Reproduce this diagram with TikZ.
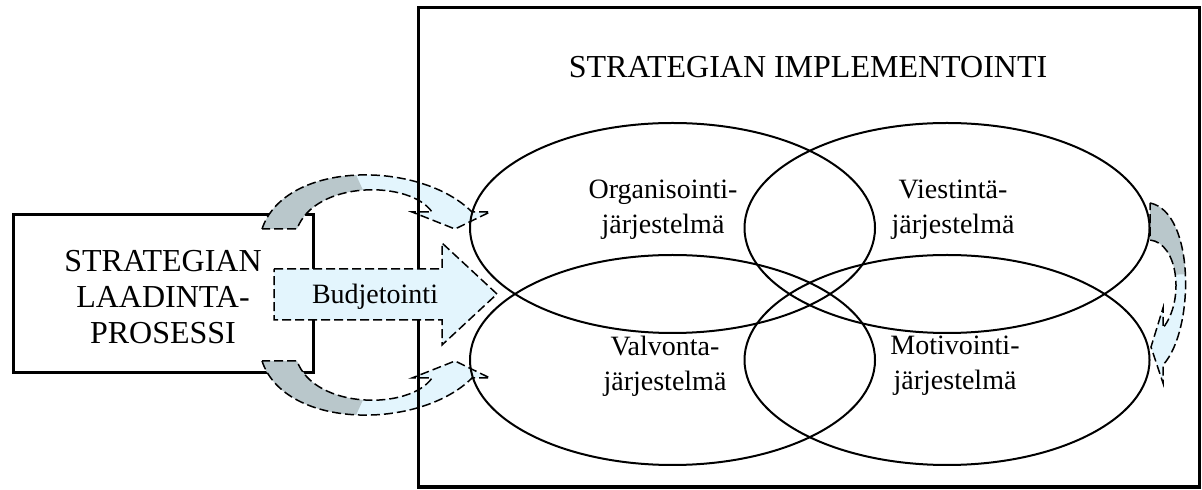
\documentclass[tikz,border=0pt]{standalone}
\usepackage{fontspec}
\setmainfont{Liberation Serif}
\usetikzlibrary{shapes.geometric, positioning}
\definecolor{vaalea}{RGB}{227,245,253}
\definecolor{varjo}{RGB}{185,199,203}

\begin{document}
\begin{tikzpicture}[x=0.5pt, y=-0.5pt,
                    laatikko/.style={draw, line width=1.5pt, inner sep=0pt},
                    jarj/.style={ellipse, draw, line width=1pt, minimum width=202.5pt, minimum height=105pt, inner sep=0pt},
                    teksti/.style={align=center, font=\fontsize{14}{17.5}\selectfont},
                    iso/.style={align=center, font=\fontsize{16}{18}\selectfont},
                    katko/.style={draw, dash pattern=on 4.5pt off 2pt, line width=0.75pt}]
                  \useasboundingbox (0,0) rectangle (1202,490);

                  \node[laatikko, minimum width=150pt, minimum height=79pt] (laadinta) at (163,294) {};
                  \node[iso] (laadintateksti) at (163,297) {STRATEGIAN\\LAADINTA-\\PROSESSI};

                  \foreach \s/\f in {0/1, 590/-1}{
                      \begin{scope}[shift={(0,\s)}, yscale=\f]
                          \fill[vaalea] (262,229) .. controls (285,160) and (420,160) .. (472,212) -- (490,212) -- (455,229) -- (412,212) -- (432,212) .. controls (410,180) and (315,180) .. (297,229) -- cycle;
                          \fill[varjo] (262,229) .. controls (273.5,194.5) and (313,177.25) .. (356.1,175.1) -- (363,190.1) .. controls (334.25,192.25) and (306,204.5) .. (297,229) -- cycle;
                          \path[katko] (262,229) .. controls (285,160) and (420,160) .. (472,212) -- (490,212) -- (455,229) -- (412,212) -- (432,212) .. controls (410,180) and (315,180) .. (297,229) -- cycle;
                      \end{scope}
                  }

                  \fill[vaalea] (1150,203) .. controls (1195,212) and (1195,330) .. (1163,365) -- (1163,383) -- (1151,347) -- (1163,308) -- (1163,328) .. controls (1185,300) and (1178,243) .. (1150,240) -- cycle;
                  \fill[varjo] (1150,203) .. controls (1172.5,207.5) and (1183.75,239.25) .. (1185.4,274.3) -- (1175.3,274.6) .. controls (1172.75,256.5) and (1164,241.5) .. (1150,240) -- cycle;
                  \path[katko] (1150,203) .. controls (1195,212) and (1195,330) .. (1163,365) -- (1163,383) -- (1151,347) -- (1163,308) -- (1163,328) .. controls (1185,300) and (1178,243) .. (1150,240) -- cycle;

                  \node[laatikko, minimum width=390.5pt, minimum height=239.5pt] (impl) at (808.5,247.5) {};
                  \node[iso] (otsikko) at (808,67) {STRATEGIAN IMPLEMENTOINTI};

                  \node[jarj] (org) at (672.5,228) {};
                  \node[jarj] (viest) at (947,228) {};
                  \node[jarj] (valv) at (672.5,360) {};
                  \node[jarj] (motiv) at (947,360) {};

                  \node[teksti] (orgteksti) at (663,210) {Organisointi-\\järjestelmä};
                  \node[teksti] (viestteksti) at (953,210) {Viestintä-\\järjestelmä};
                  \node[teksti] (valvteksti) at (665,366) {Valvonta-\\järjestelmä};
                  \node[teksti] (motivteksti) at (955,366) {Motivointi-\\järjestelmä};

                  \path[katko, fill=vaalea] (274,269) -- (442,269) -- (442,243) -- (497,294) -- (442,345) -- (442,320) -- (274,320) -- cycle;
                  \node[teksti] (budj) at (375,297) {Budjetointi};
              \end{tikzpicture}
\end{document}
